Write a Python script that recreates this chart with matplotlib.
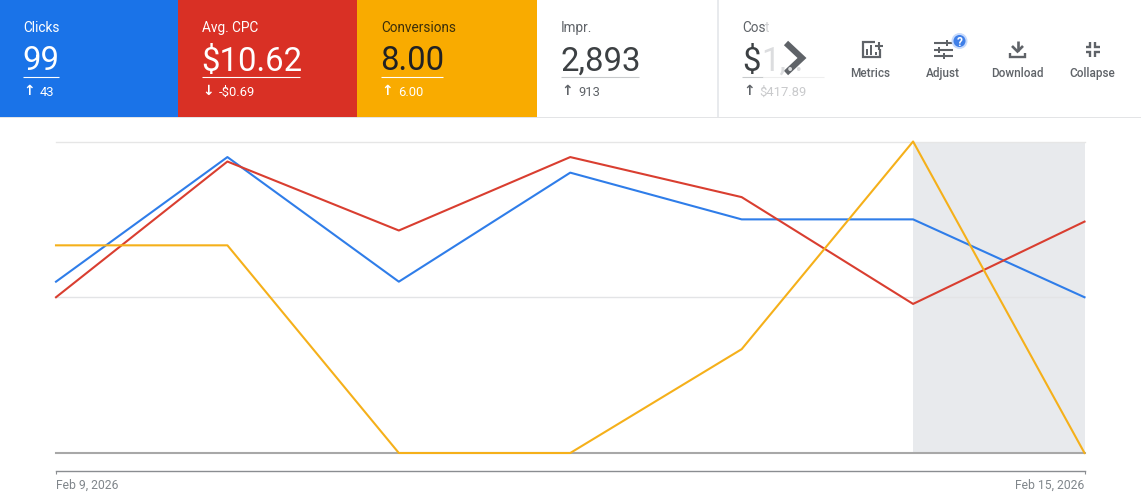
# google ads style overview: score cards on top, 7 day chart below

import matplotlib as mpl
mpl.use('Agg')
import matplotlib.pyplot as plt
import numpy as np

# daily values
days = [0, 1, 2, 3, 4, 5, 6]
clicks = [11, 19, 11, 18, 15, 15, 10]
avg_cpc = [7.0, 13.1, 10.0, 13.3, 11.5, 6.7, 10.4]
conversions = [2, 2, 0, 0, 1, 3, 0]

# score cards
card_labels = ['Clicks', 'Avg. CPC', 'Conversions', 'Impr.']
card_values = ['99', '$10.62', '8.00', '2,893']
card_deltas = ['43', '-$0.69', '6.00', '913']
card_arrows = ['↑', '↓', '↑', '↑']
date_labels = ['Feb 9, 2026', 'Feb 15, 2026']
tool_labels = ['Metrics', 'Adjust', 'Download', 'Collapse']

BLUE = '#1a73e8'
RED = '#d93025'
AMBER = '#f9ab00'
GREY = '#5f6368'
FONT = ['Roboto', 'DejaVu Sans']

W, H = 1141, 502
mpl.rc('font', family=FONT)
f = plt.figure(figsize=(W / 100, H / 100), dpi=100)

# chart axes, one y scale per series
ax0 = f.add_axes([56 / W, (H - 454) / H, (1084.5 - 56) / W, (454 - 142.5) / H])
ax1 = ax0.twinx()
ax2 = ax0.twinx()

ax0.set_xlim(0, 6)
ax0.set_ylim(0, 20)
ax1.set_ylim(0, 14)
ax2.set_ylim(0, 3)

ax0.axvspan(5, 6, color='#e8eaed', lw=0, zorder=0)
ax0.axhline(20, color='#e6e6e6', lw=1, zorder=1, clip_on=False)
ax0.axhline(10, color='#e3e4e6', lw=1, zorder=1)
ax0.axhline(0, color='#a8a8a8', lw=1.5, zorder=1, clip_on=False)

ax0.plot(days, clicks, color='#2f7de9', lw=1.5, clip_on=False, zorder=3)
ax1.plot(days, avg_cpc, color='#d93e30', lw=1.5, clip_on=False, zorder=3)
ax2.plot(days, conversions, color='#f5b01a', lw=1.5, clip_on=False, zorder=3)

for ax in (ax1, ax2):
    ax.axis('off')

for side in ('top', 'left', 'right'):
    ax0.spines[side].set_visible(False)
ax0.spines['bottom'].set_position(('outward', 12.6))
ax0.spines['bottom'].set_color('#8a8d91')
ax0.spines['bottom'].set_linewidth(1)
ax0.set_yticks([])
ax0.set_xticks([0, 6])
ax0.set_xticklabels(date_labels, fontsize=8.7, color='#80868b')
ax0.get_xticklabels()[0].set_ha('left')
ax0.get_xticklabels()[1].set_ha('right')
ax0.tick_params(axis='x', length=2.5, width=0.8, color='#8a8d91', pad=2.5)

# overlay in pixel coordinates for the header
top = f.add_axes([0, 0, 1, 1], zorder=5)
top.set_xlim(0, W)
top.set_ylim(H, 0)
top.axis('off')
top.patch.set_alpha(0)


def rect(x0, y0, x1, y1, color):
    top.add_patch(plt.Rectangle((x0, y0), x1 - x0, y1 - y0, fc=color, ec='none'))


def line(xs, ys, color=GREY, lw=1.4):
    top.plot(xs, ys, color=color, lw=lw, solid_capstyle='butt', solid_joinstyle='miter')


def text(x, y, s, size, color, **kw):
    top.text(x, y, s, fontsize=size, color=color, va='baseline', **kw)


rect(0, 0, W, 1.2, '#c4c6c8')
rect(0, 117.5, W, 118.5, '#e3e4e6')
rect(0, 0, 178, 117.5, BLUE)
rect(178, 0, 357, 117.5, RED)
rect(357, 0, 537, 117.5, AMBER)
rect(717, 1, 718.5, 117.5, '#e8eaed')

card_x = [23, 202, 381, 561]
line_end = [59, 300, 443, 639]
ink = ['white', 'white', '#202124', '#3c4043']
label_ink = ['white', 'white', '#3c2f0a', '#5f6368']
delta_ink = ['white', 'white', 'white', '#5f6368']
rule_ink = ['white', 'white', 'white', '#c8cacc']
for i in range(4):
    x = card_x[i]
    text(x, 32, card_labels[i], 9.8, label_ink[i])
    text(x - 0.5, 70.5, card_values[i], 23.7, ink[i])
    line([x, line_end[i]], [77.5, 77.5], rule_ink[i], 0.8)
    text(x + 0.5, 95, card_arrows[i], 10, delta_ink[i], fontweight='bold')
    text(x + 17, 96, card_deltas[i], 9.4, delta_ink[i])

# cost card fades out under the chevron
text(742, 32, 'Cos', 9.8, '#5f6368')
text(764.5, 32, 't', 9.8, '#d0d1d3')
text(742, 70.5, '$', 23.7, '#3c4043')
text(761, 70.5, '1,..', 23.7, '#dcdddf')
line([742, 763], [77.5, 77.5], '#c8cacc', 0.8)
line([763, 824], [77.5, 77.5], '#eeeeee', 0.8)
text(743, 95, '↑', 10, '#5f6368', fontweight='bold')
text(759, 96, '$417.89', 9.4, '#c9cacc')

# chevron
line([786, 802, 786], [44, 59, 74], '#5f6368', 4.4)

# toolbar
tool_x = [870, 943, 1017, 1092]
for x, label in zip(tool_x, tool_labels):
    top.text(x, 77, label, fontsize=8.5, color=GREY, ha='center', va='baseline',
             fontweight='medium')

# metrics icon
line([875, 862.5, 862.5, 879.5, 879.5], [42.5, 42.5, 58, 58, 50], GREY, 1.6)
for bx, by in zip([866.5, 871, 875.5], [50, 46, 53]):
    rect(bx - 1, by, bx + 1, 55.5, GREY)
line([875, 883], [46.5, 46.5], GREY, 1.5)
line([879, 879], [42.5, 50.5], GREY, 1.5)

# adjust icon
for y, kx in zip([44, 50.5, 57], [947, 939, 944]):
    line([934, 953], [y, y], GREY, 1.5)
    rect(kx - 1.4, y - 3, kx + 1.4, y + 3, GREY)
top.add_patch(plt.Circle((959.5, 42), 7, fc='#3f7fe8', ec='#c6dafc', lw=1.4, zorder=4))
top.text(959.5, 42.5, '?', fontsize=8.5, color='white', fontweight='bold',
         ha='center', va='center', zorder=5)

# download icon
line([1017.5, 1017.5], [42, 52], GREY, 1.9)
line([1012, 1017.5, 1023], [47, 52.5, 47], GREY, 1.9)
line([1010, 1010, 1025, 1025], [53.5, 57.5, 57.5, 53.5], GREY, 1.7)

# collapse icon
cx, cy = 1092.5, 50
for sx, sy in [(-1, -1), (1, -1), (-1, 1), (1, 1)]:
    line([cx + sx * 7, cx + sx * 2.5, cx + sx * 2.5],
         [cy + sy * 2.5, cy + sy * 2.5, cy + sy * 7.5], GREY, 1.7)

plt.savefig('out.png', dpi=100)
plt.close(f)
